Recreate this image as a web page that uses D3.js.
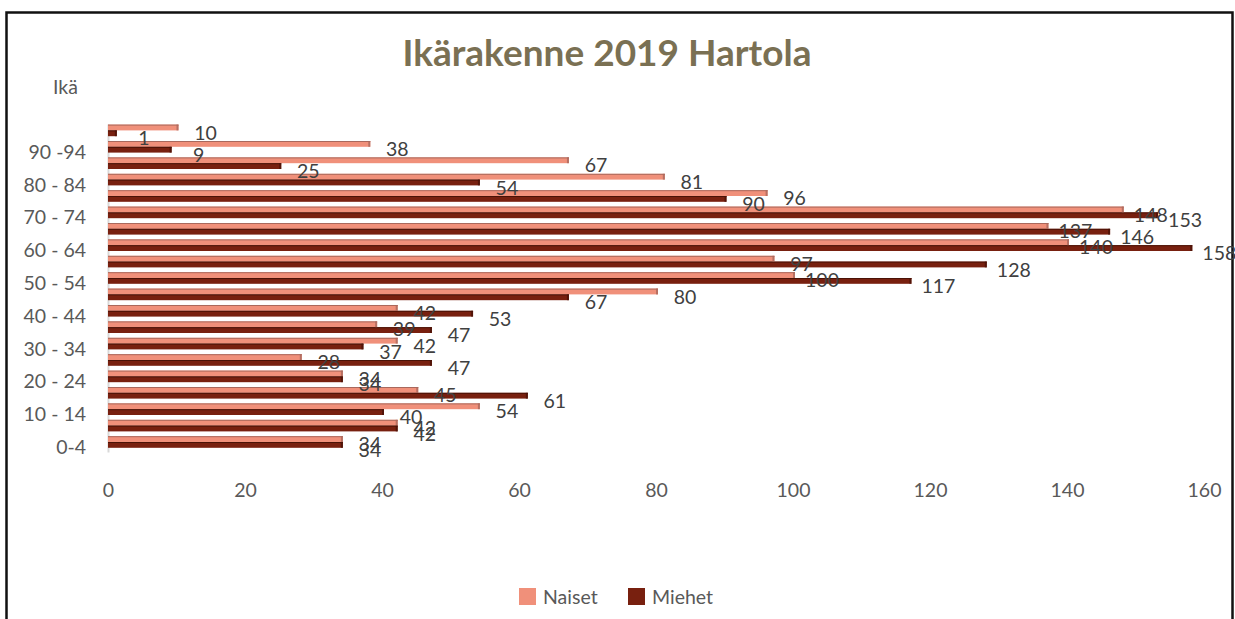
<!DOCTYPE html>
<html>
<head>
<meta charset="utf-8">
<script src="https://cdn.jsdelivr.net/npm/d3@7"></script>
<style>
 body { margin: 0; background: #fff; }
 text { font-family: Lato, "Open Sans", sans-serif; }
</style>
</head>
<body>
<div id="chart"></div>
<script>
// data
var categories = ["0-4", "5 - 9", "10 - 14", "15 - 19", "20 - 24", "25 - 29", "30 - 34", "35 - 39", "40 - 44", "45 - 49",
  "50 - 54", "55 - 59", "60 - 64", "65 - 69", "70 - 74", "75 - 79", "80 - 84", "85 - 89", "90 -94", "95-"];
var naiset = [34, 42, 54, 45, 34, 28, 42, 39, 42, 80, 100, 97, 140, 137, 148, 96, 81, 67, 38, 10];
var miehet = [34, 42, 40, 61, 34, 47, 37, 47, 53, 67, 117, 128, 158, 146, 153, 90, 54, 25, 9, 1];
var seriesNames = ["Naiset", "Miehet"];
var xTicks = [0, 20, 40, 60, 80, 100, 120, 140, 160];

var colors = {Naiset: "#f0907a", Miehet: "#78200f"};
var edges = {Naiset: "#a9685c", Miehet: "#4a1206"};

var W = 1235, H = 619;
var plot = {left: 108, right: 1204, top: 124, bottom: 452};

var svg = d3.select("#chart")
 .append("svg")
 .attr("width", W)
 .attr("height", H);

// frame
svg.append("rect")
 .attr("x", 6.5).attr("y", 12.5)
 .attr("width", 1226).attr("height", H + 10)
 .attr("fill", "none")
 .attr("stroke", "#111")
 .attr("stroke-width", 2.5);

// title
svg.append("text")
 .attr("x", 607).attr("y", 66)
 .attr("text-anchor", "middle")
 .attr("font-size", 37)
 .attr("font-weight", "bold")
 .attr("fill", "#7a7053")
 .text("Ikärakenne 2019 Hartola");

svg.append("text")
 .attr("x", 53).attr("y", 94)
 .attr("font-size", 19.5)
 .attr("fill", "#595959")
 .text("Ikä");

var x = d3.scaleLinear()
 .domain([0, 160])
 .range([plot.left, plot.right]);

// 0-4 at the bottom
var y0 = d3.scaleBand()
 .domain(categories.slice().reverse())
 .range([plot.top, plot.bottom]);

var y1 = d3.scaleBand()
 .domain(seriesNames)
 .range([0.6, 12.2]);

// x axis (labels only)
var xAxis = svg.append("g")
 .attr("transform", "translate(0," + plot.bottom + ")")
 .call(d3.axisBottom(x).tickValues(xTicks).tickSize(0).tickPadding(31));
xAxis.select(".domain").remove();
xAxis.selectAll("text")
 .attr("font-size", 19.5)
 .attr("fill", "#595959")
 .style("font-family", "Lato, sans-serif");

// y axis, every other label
var yAxis = svg.append("g")
 .attr("transform", "translate(" + plot.left + ",0)")
 .call(d3.axisLeft(y0)
   .tickValues(categories.filter(function(d, i) { return i % 2 == 0; }))
   .tickSize(0).tickSizeOuter(0).tickPadding(22));
yAxis.select(".domain")
 .attr("stroke", "#d9d9d9")
 .attr("stroke-width", 2);
yAxis.selectAll("text")
 .attr("font-size", 19.5)
 .attr("fill", "#595959")
 .attr("y", 4)
 .style("font-family", "Lato, sans-serif");

var rows = categories.map(function(c, i) {
 return {cat: c, values: [{s: "Naiset", v: naiset[i]}, {s: "Miehet", v: miehet[i]}]};
});

var groups = svg.selectAll(".row")
 .data(rows)
 .enter()
 .append("g")
 .attr("class", "row")
 .attr("transform", function(d) { return "translate(0," + y0(d.cat) + ")"; });

var bars = groups.selectAll(".bar")
 .data(function(d) { return d.values; })
 .enter();

bars.append("rect")
 .attr("x", x(0))
 .attr("y", function(d) { return y1(d.s); })
 .attr("width", function(d) { return x(d.v) - x(0) + 2; })
 .attr("height", y1.bandwidth())
 .attr("fill", function(d) { return colors[d.s]; });

// bevel edges
bars.append("line")
 .attr("x1", x(0))
 .attr("x2", function(d) { return x(d.v) + 2; })
 .attr("y1", function(d) { return y1(d.s) + 0.5; })
 .attr("y2", function(d) { return y1(d.s) + 0.5; })
 .attr("stroke", function(d) { return edges[d.s]; })
 .attr("stroke-width", 1);
bars.append("rect")
 .attr("x", function(d) { return x(d.v); })
 .attr("y", function(d) { return y1(d.s); })
 .attr("width", 2)
 .attr("height", y1.bandwidth())
 .attr("fill", function(d) { return edges[d.s]; })
 .attr("opacity", 0.8);

// value labels
groups.selectAll(".lbl")
 .data(function(d) { return d.values; })
 .enter()
 .append("text")
 .attr("class", "lbl")
 .attr("x", function(d) { return x(d.v) + 29; })
 .attr("y", function(d) { return y1(d.s) + y1.bandwidth() / 2 + 5; })
 .attr("dy", "0.36em")
 .attr("text-anchor", "middle")
 .attr("font-size", 19.5)
 .attr("fill", "#404040")
 .text(function(d) { return d.v; });

// legend
var legend = svg.append("g");
var legendX = [519, 628];
seriesNames.forEach(function(s, i) {
 legend.append("rect")
  .attr("x", legendX[i]).attr("y", 588)
  .attr("width", 17).attr("height", 17)
  .attr("fill", colors[s]);
 legend.append("text")
  .attr("x", legendX[i] + 24).attr("y", 604)
  .attr("font-size", 19.5)
  .attr("fill", "#595959")
  .text(s);
});
</script>
</body>
</html>
